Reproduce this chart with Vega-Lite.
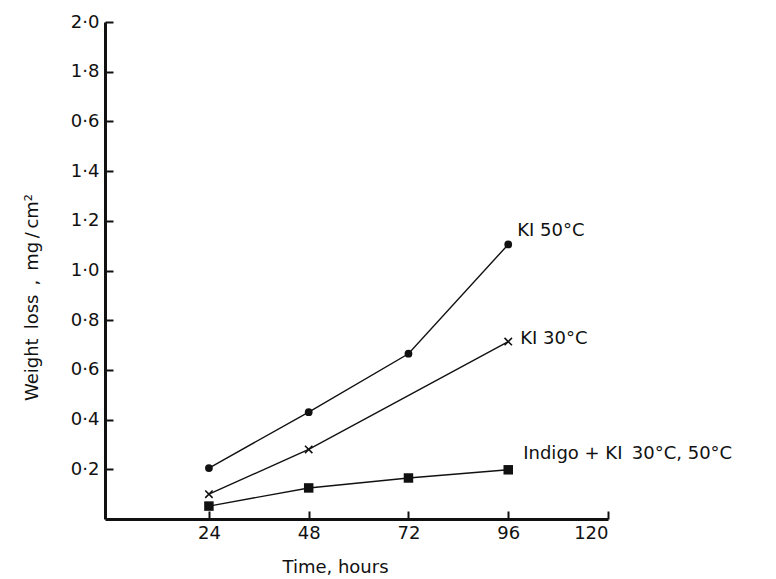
{
  "$schema": "https://vega.github.io/schema/vega-lite/v6.json",
  "width": 503,
  "height": 497,
  "autosize": {"type": "none"},
  "padding": {"left": 105, "top": 22, "right": 168, "bottom": 60},
  "background": "white",
  "config": {
    "view": {"stroke": null},
    "font": "DejaVu Sans",
    "axis": {"grid": false, "domainColor": "#111", "tickColor": "#111", "labelColor": "#111", "titleColor": "#111", "labelFont": "DejaVu Sans", "titleFont": "DejaVu Sans", "titleFontWeight": "normal"}
  },
  "data": {
    "values": [
      {"series": "KI 50°C", "time": 24, "loss": 0.205},
      {"series": "KI 50°C", "time": 48, "loss": 0.43},
      {"series": "KI 50°C", "time": 72, "loss": 0.665},
      {"series": "KI 50°C", "time": 96, "loss": 1.105},
      {"series": "KI 30°C", "time": 24, "loss": 0.1},
      {"series": "KI 30°C", "time": 48, "loss": 0.28},
      {"series": "KI 30°C", "time": 96, "loss": 0.714},
      {"series": "Indigo + KI\u2009 30°C, 50°C", "time": 24, "loss": 0.052},
      {"series": "Indigo + KI\u2009 30°C, 50°C", "time": 48, "loss": 0.125},
      {"series": "Indigo + KI\u2009 30°C, 50°C", "time": 72, "loss": 0.165},
      {"series": "Indigo + KI\u2009 30°C, 50°C", "time": 96, "loss": 0.198}
    ]
  },
  "encoding": {
    "x": {
      "field": "time", "type": "quantitative",
      "scale": {"domain": [-1, 120], "nice": false, "zero": false},
      "axis": {
        "values": [24, 48, 72, 96, 120],
        "title": "Time, hours",
        "titleFontSize": 18,
        "titleX": 230, "titleY": 48, "titleAlign": "center", "titleBaseline": "middle",
        "labelFontSize": 18, "labelPadding": 13,
        "tickSize": -8, "tickWidth": 2, "domainWidth": 3
      }
    },
    "y": {
      "field": "loss", "type": "quantitative",
      "scale": {"domain": [0, 2], "nice": false},
      "axis": {
        "values": [0.2, 0.4, 0.6, 0.8, 1.0, 1.2, 1.4, 1.6, 1.8, 2.0],
        "labelExpr": "datum.value == 1.6 ? '0·6' : replace(format(datum.value, '.1f'), '.', '·')",
        "title": "Weight\u2002loss\u2002,\u2002mg\u2009/\u2009cm²",
        "titleFontSize": 18,
        "titleX": -73, "titleY": 275, "titleAlign": "center", "titleBaseline": "middle", "titleAngle": -90,
        "labelFontSize": 18, "labelPadding": 14,
        "tickSize": -8, "tickWidth": 2, "domainWidth": 3
      }
    }
  },
  "layer": [
    {
      "mark": {"type": "line", "color": "#111", "strokeWidth": 1.4},
      "encoding": {"detail": {"field": "series"}}
    },
    {
      "transform": [{"filter": "datum.series == 'KI 50°C'"}],
      "mark": {"type": "point", "shape": "circle", "filled": true, "color": "#111", "size": 60, "opacity": 1}
    },
    {
      "transform": [{"filter": "datum.series == 'KI 30°C'"}],
      "mark": {"type": "point", "shape": "M-1,-1L1,1M-1,1L1,-1", "filled": false, "color": "#111", "size": 55, "strokeWidth": 1.6, "opacity": 1}
    },
    {
      "transform": [{"filter": "indexof(datum.series, 'Indigo') == 0"}],
      "mark": {"type": "point", "shape": "square", "filled": true, "color": "#111", "size": 90, "opacity": 1}
    },
    {
      "transform": [{"filter": "datum.series == 'KI 50°C' && datum.time == 96"}],
      "mark": {"type": "text", "align": "left", "baseline": "middle", "dx": 9, "dy": -13, "fontSize": 18, "color": "#111"},
      "encoding": {"text": {"field": "series"}}
    },
    {
      "transform": [{"filter": "datum.series == 'KI 30°C' && datum.time == 96"}],
      "mark": {"type": "text", "align": "left", "baseline": "middle", "dx": 12, "dy": -3, "fontSize": 18, "color": "#111"},
      "encoding": {"text": {"field": "series"}}
    },
    {
      "transform": [{"filter": "indexof(datum.series, 'Indigo') == 0 && datum.time == 96"}],
      "mark": {"type": "text", "align": "left", "baseline": "middle", "dx": 15, "dy": -16, "fontSize": 18, "color": "#111"},
      "encoding": {"text": {"field": "series"}}
    }
  ]
}
